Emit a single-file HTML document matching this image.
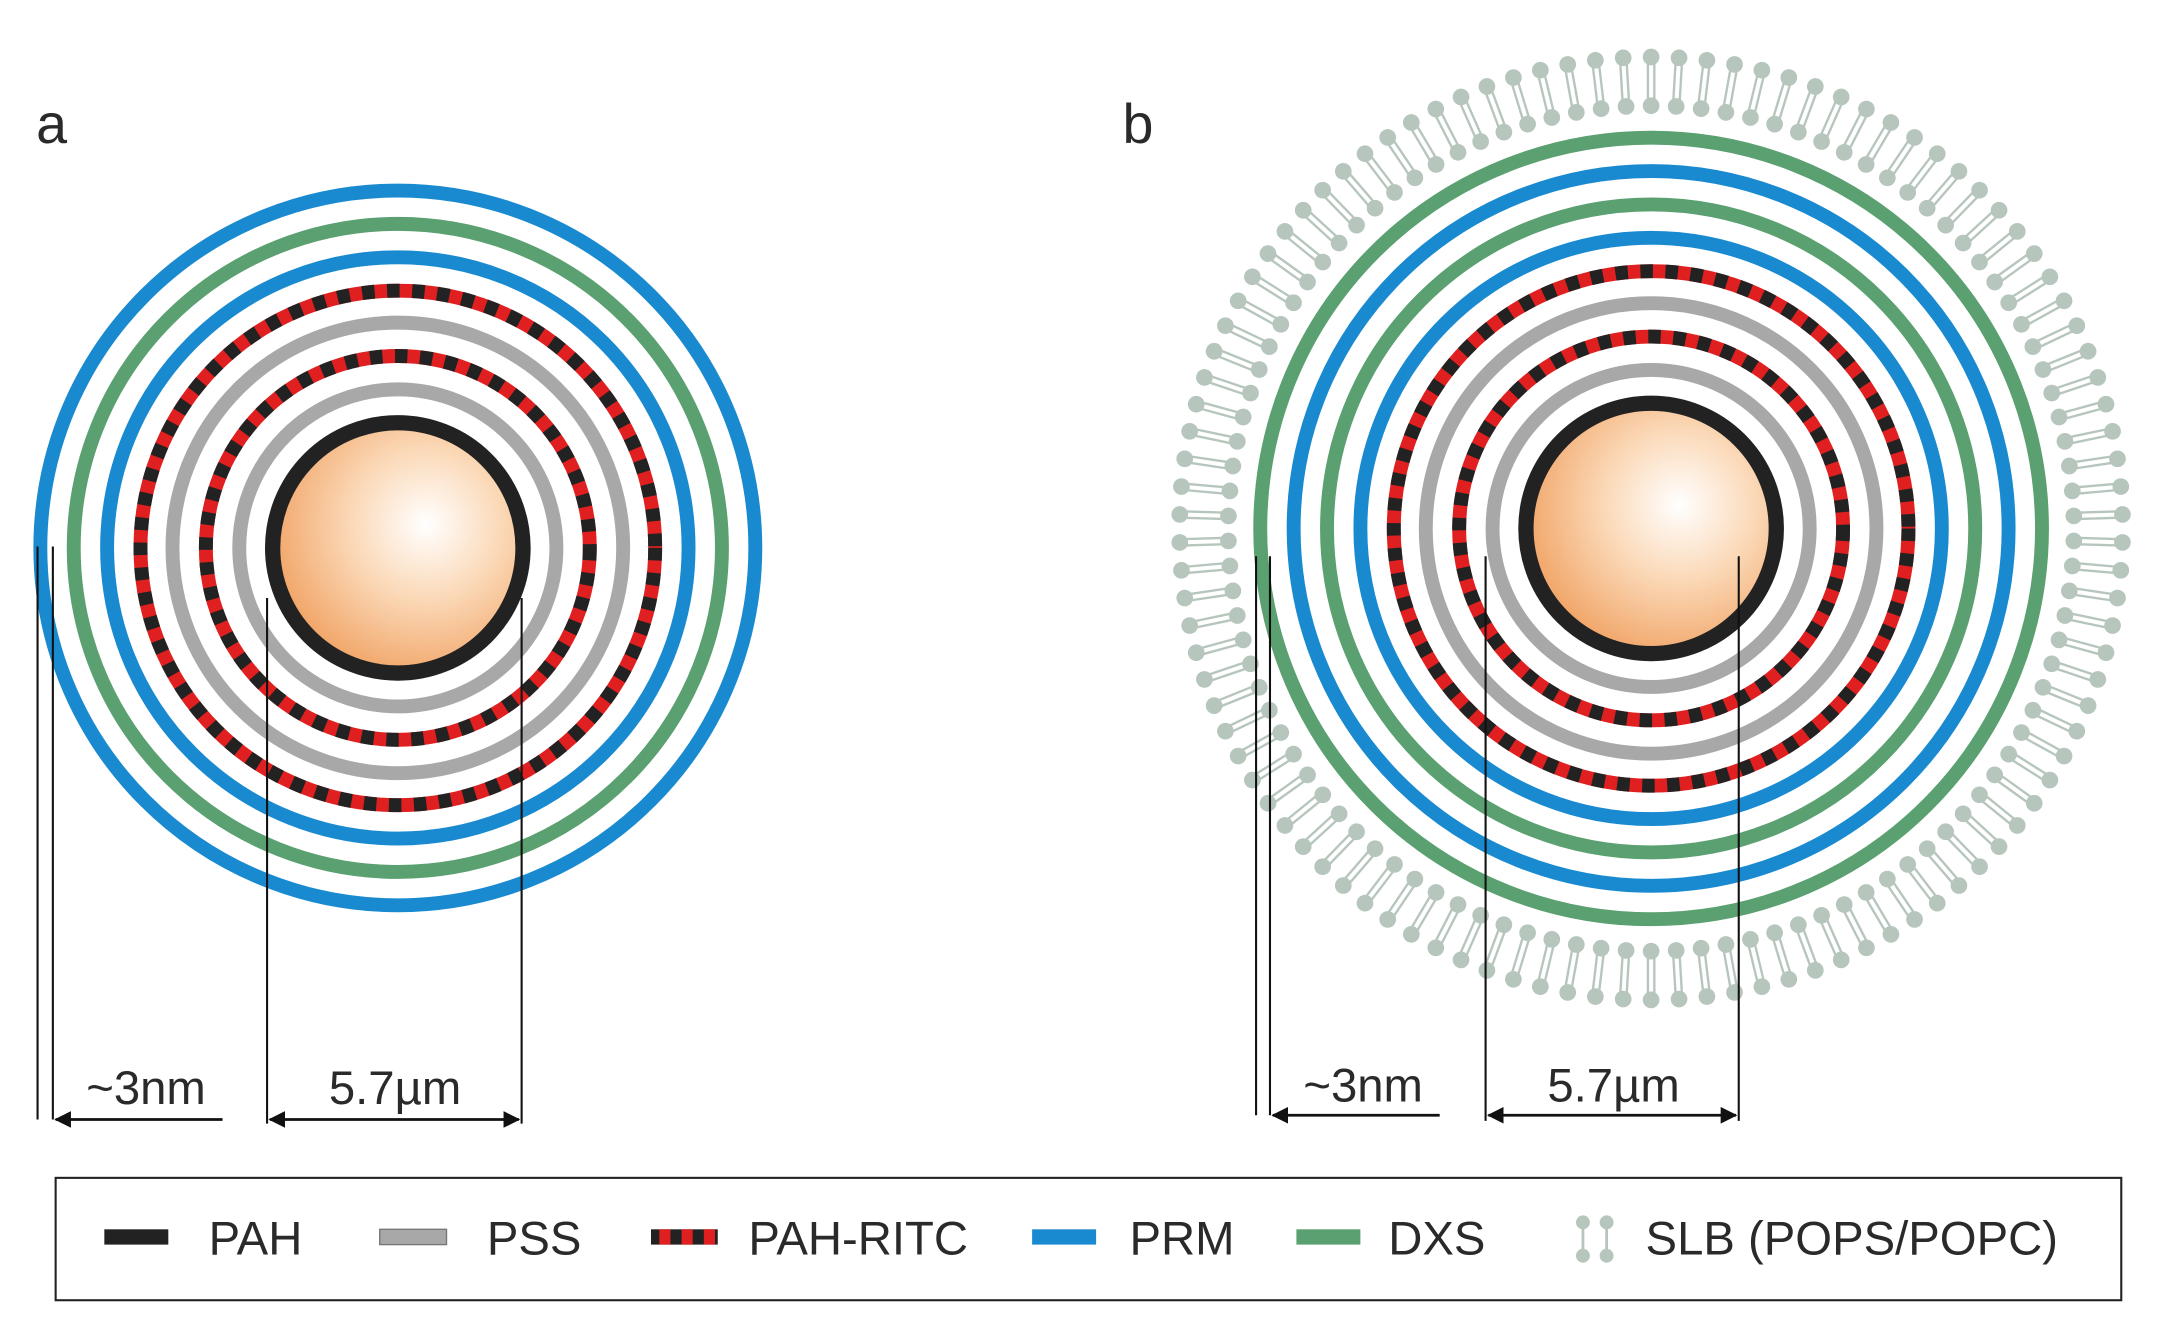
<!DOCTYPE html>
<html><head><meta charset="utf-8"><style>
html,body{margin:0;padding:0;background:#fff;}
svg{display:block;}
text{font-family:"Liberation Sans",sans-serif;fill:#2a2a2a;}
</style></head><body>
<svg id="fig" width="2163" height="1335" viewBox="0 0 1555 960" preserveAspectRatio="none" xmlns="http://www.w3.org/2000/svg">
<defs>
<radialGradient id="ball" cx="0.62" cy="0.4" r="0.7">
<stop offset="0" stop-color="#ffffff"/>
<stop offset="0.45" stop-color="#fbd9b8"/>
<stop offset="1" stop-color="#f0a060"/>
</radialGradient>
<marker id="arr" markerWidth="12" markerHeight="12" refX="11" refY="6" orient="auto-start-reverse" markerUnits="userSpaceOnUse">
<path d="M0,0 L12,6 L0,12 z" fill="#111"/>
</marker>
</defs>
<rect x="0" y="0" width="1555" height="960" fill="#fff"/>
<text x="26" y="103" font-size="40">a</text>
<text x="807" y="103" font-size="40">b</text>
<g id="lipids"></g>
<g id="ringsA"></g>
<g id="ringsB"></g>
<g stroke="#111" stroke-width="1.5" fill="none">
<line x1="27" y1="393" x2="27" y2="805"/>
<line x1="38" y1="393" x2="38" y2="805"/>
<line x1="160" y1="805" x2="40" y2="805" marker-end="url(#arr)" stroke-width="2"/>
<line x1="192" y1="430" x2="192" y2="808"/>
<line x1="375" y1="430" x2="375" y2="808"/>
<line x1="194" y1="805" x2="373" y2="805" marker-start="url(#arr)" marker-end="url(#arr)" stroke-width="2"/>
</g>
<text x="62" y="794" font-size="34">~3nm</text>
<text x="284" y="794" font-size="34" text-anchor="middle">5.7µm</text>
<g stroke="#111" stroke-width="1.5" fill="none">
<line x1="903" y1="400" x2="903" y2="802"/>
<line x1="913" y1="400" x2="913" y2="802"/>
<line x1="1035" y1="802" x2="915" y2="802" marker-end="url(#arr)" stroke-width="2"/>
<line x1="1068" y1="400" x2="1068" y2="806"/>
<line x1="1250" y1="400" x2="1250" y2="806"/>
<line x1="1070" y1="802" x2="1248" y2="802" marker-start="url(#arr)" marker-end="url(#arr)" stroke-width="2"/>
</g>
<text x="937" y="792" font-size="34">~3nm</text>
<text x="1160" y="792" font-size="34" text-anchor="middle">5.7µm</text>
<g>
<rect x="40" y="847" width="1485" height="88" fill="none" stroke="#222" stroke-width="1.5"/>
<g><rect x="75" y="884" width="46" height="11" fill="#222"/><text x="150" y="902" font-size="34">PAH</text></g>
<g><rect x="273" y="884" width="48" height="11" fill="#a8a8a8" stroke="#777" stroke-width="1"/><text x="350" y="902" font-size="34">PSS</text></g>
<g><rect x="468" y="884" width="48" height="11" fill="#222"/><rect x="474" y="884" width="8" height="11" fill="#e02020"/><rect x="490" y="884" width="8" height="11" fill="#e02020"/><rect x="506" y="884" width="8" height="11" fill="#e02020"/><text x="538" y="902" font-size="34">PAH-RITC</text></g>
<g><rect x="742" y="884" width="46" height="11" fill="#1a8ad0"/><text x="812" y="902" font-size="34">PRM</text></g>
<g><rect x="932" y="884" width="46" height="11" fill="#5aa070"/><text x="998" y="902" font-size="34">DXS</text></g>
<g fill="#b6c6bd" stroke="#b6c6bd">
<circle cx="1138" cy="879" r="4.5"/><circle cx="1138" cy="903" r="4.5"/><line x1="1138" y1="879" x2="1138" y2="903" stroke-width="2"/>
<circle cx="1155" cy="879" r="4.5"/><circle cx="1155" cy="903" r="4.5"/><line x1="1155" y1="879" x2="1155" y2="903" stroke-width="2"/>
<text x="1183" y="902" font-size="34" stroke="none" fill="#2a2a2a">SLB (POPS/POPC)</text></g>
</g>
</svg>
<script>
var NS="http://www.w3.org/2000/svg";
var layersA=["pah","pss","ritc","pss","ritc","prm","dxs","prm"];
var layersB=["pah","pss","ritc","pss","ritc","prm","dxs","prm","dxs"];
var radii=[90,114,138,162,185,209,233,257,281];
var colors={pah:"#222222",pss:"#a8a8a8",ritc:"#e02020",prm:"#1a8ad0",dxs:"#5aa070"};
function mk(tag,attrs,parent){var e=document.createElementNS(NS,tag);for(var k in attrs)e.setAttribute(k,attrs[k]);parent.appendChild(e);return e;}
function drawCapsule(g,cx,cy,layers){
  var ball=mk("circle",{cx:cx,cy:cy,r:85,fill:"url(#ball)"},g);
  
  
  for(var i=0;i<layers.length;i++){
    var t=layers[i];
    var c=mk("circle",{cx:cx,cy:cy,r:radii[i],fill:"none",stroke:colors[t],"stroke-width":t==="pah"?11:10},g);
    
    
    if(t==="ritc"){
      var d=mk("circle",{cx:cx,cy:cy,r:radii[i],fill:"none",stroke:"#222","stroke-width":10,"stroke-dasharray":"9 9"},g);
      
      
    }
  }
}
drawCapsule(document.getElementById("ringsA"),286,394,layersA);
drawCapsule(document.getElementById("ringsB"),1187,380,layersB);
var lg=document.getElementById("lipids");
var N=106,cx=1187,cy=380,rin=304,rout=339;
for(var i=0;i<N;i++){
  var a=2*Math.PI*(i+0.5)/N,ca=Math.cos(a),sa=Math.sin(a),px=-sa,py=ca;
  var g=mk("g",{fill:"#b6c6bd",stroke:"#b6c6bd"},lg);
  
  
  mk("circle",{cx:cx+rin*ca,cy:cy+rin*sa,r:6,stroke:"none"},g);
  mk("circle",{cx:cx+rout*ca,cy:cy+rout*sa,r:6,stroke:"none"},g);
  for(var s=-1;s<=1;s+=2){
    mk("line",{x1:cx+(rin+4)*ca+s*2.3*px,y1:cy+(rin+4)*sa+s*2.3*py,x2:cx+(rout-4)*ca+s*2.3*px,y2:cy+(rout-4)*sa+s*2.3*py,"stroke-width":1.7},g);
  }
}
</script>
</body></html>
